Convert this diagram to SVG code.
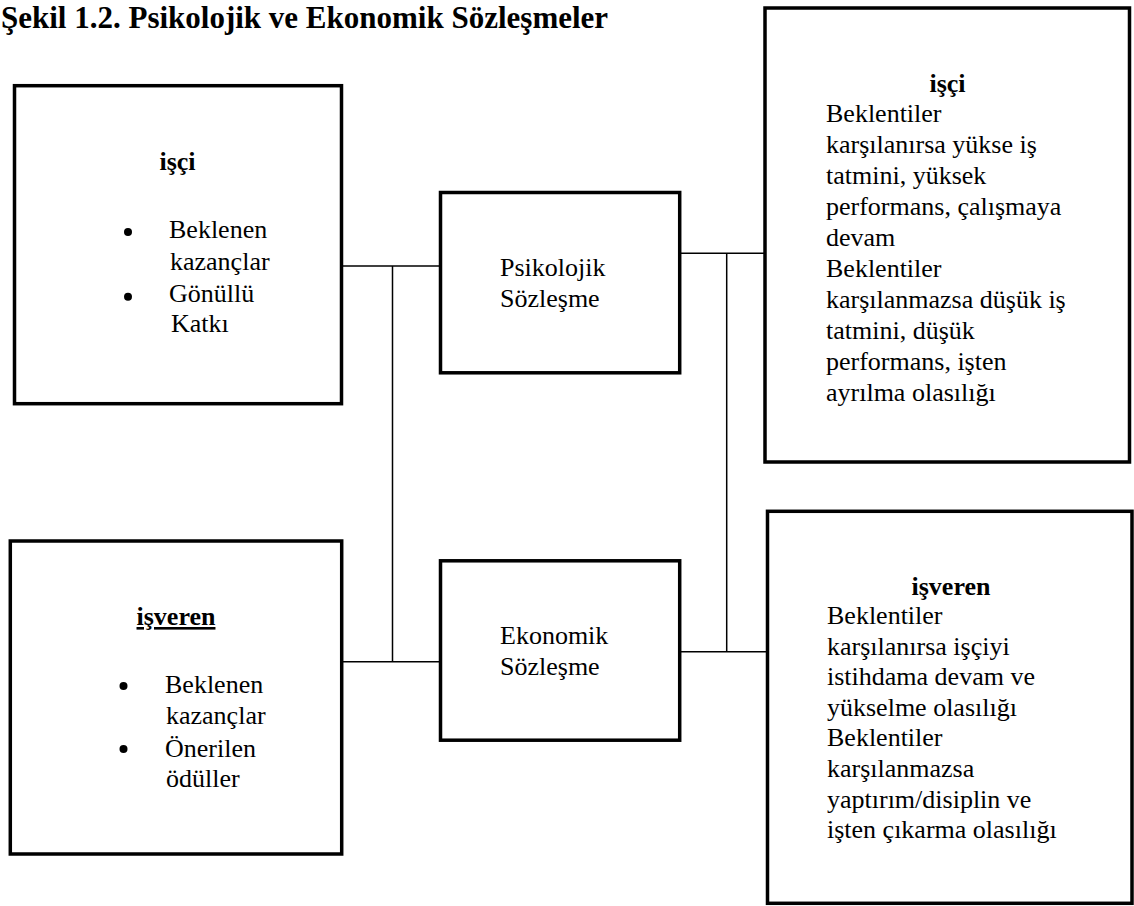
<svg xmlns="http://www.w3.org/2000/svg" width="1134" height="906" viewBox="0 0 1134 906">
<style>
.box{fill:#fff;stroke:#000;stroke-width:3.5}
.conn{stroke:#000;stroke-width:1.5;fill:none}
text{font-family:"Liberation Serif","Times New Roman",serif;font-size:26px;fill:#000}
.b{font-weight:bold}
.title{font-weight:bold;font-size:31px}
</style>
<rect width="1134" height="906" fill="#fff"/>
<text class="title" x="1" y="28">Şekil 1.2. Psikolojik ve Ekonomik Sözleşmeler</text>
<g id="connectors">
<line class="conn" x1="342" y1="266" x2="440" y2="266"/>
<line class="conn" x1="392.5" y1="266" x2="392.5" y2="661.7"/>
<line class="conn" x1="342" y1="661.7" x2="440" y2="661.7"/>
<line class="conn" x1="680" y1="253.3" x2="767" y2="253.3"/>
<line class="conn" x1="726.7" y1="253.3" x2="726.7" y2="651.7"/>
<line class="conn" x1="680" y1="651.7" x2="767" y2="651.7"/>
</g>
<g id="isci-left">
<rect class="box" x="14.5" y="85.7" width="327" height="318"/>
<text class="b" x="177.5" y="170" text-anchor="middle">işçi</text>
<circle cx="128" cy="232" r="4"/>
<circle cx="128" cy="296.7" r="4"/>
<text x="169" y="238.3">Beklenen</text>
<text x="170" y="270">kazançlar</text>
<text x="169" y="301.7">Gönüllü</text>
<text x="171" y="331.7">Katkı</text>
</g>
<g id="isveren-left">
<rect class="box" x="10.3" y="541" width="331.4" height="313"/>
<text class="b" x="176" y="625" text-anchor="middle" text-decoration="underline">işveren</text>
<circle cx="123.5" cy="686" r="4"/>
<circle cx="123.5" cy="749" r="4"/>
<text x="165" y="693.3">Beklenen</text>
<text x="166" y="724.3">kazançlar</text>
<text x="165" y="756.7">Önerilen</text>
<text x="166" y="786.7">ödüller</text>
</g>
<g id="psikolojik">
<rect class="box" x="440.5" y="192.5" width="239.2" height="180.3"/>
<text x="500" y="276">Psikolojik</text>
<text x="500" y="307">Sözleşme</text>
</g>
<g id="ekonomik">
<rect class="box" x="440.5" y="560.8" width="239.2" height="179.4"/>
<text x="500" y="644">Ekonomik</text>
<text x="500" y="675">Sözleşme</text>
</g>
<g id="isci-right">
<rect class="box" x="765" y="8" width="364.5" height="454"/>
<text class="b" x="947.5" y="91.7" text-anchor="middle">işçi</text>
<text x="826" y="122">Beklentiler</text>
<text x="826" y="153">karşılanırsa yükse iş</text>
<text x="826" y="184">tatmini, yüksek</text>
<text x="826" y="215">performans, çalışmaya</text>
<text x="826" y="246">devam</text>
<text x="826" y="277">Beklentiler</text>
<text x="826" y="308">karşılanmazsa düşük iş</text>
<text x="826" y="339">tatmini, düşük</text>
<text x="826" y="370">performans, işten</text>
<text x="826" y="401">ayrılma olasılığı</text>
</g>
<g id="isveren-right">
<rect class="box" x="767.5" y="511.3" width="364.5" height="392"/>
<text class="b" x="951" y="595" text-anchor="middle">işveren</text>
<text x="827" y="624">Beklentiler</text>
<text x="827" y="654.6">karşılanırsa işçiyi</text>
<text x="827" y="685.2">istihdama devam ve</text>
<text x="827" y="715.8">yükselme olasılığı</text>
<text x="827" y="746.4">Beklentiler</text>
<text x="827" y="777">karşılanmazsa</text>
<text x="827" y="807.6">yaptırım/disiplin ve</text>
<text x="827" y="838.2">işten çıkarma olasılığı</text>
</g>
</svg>
